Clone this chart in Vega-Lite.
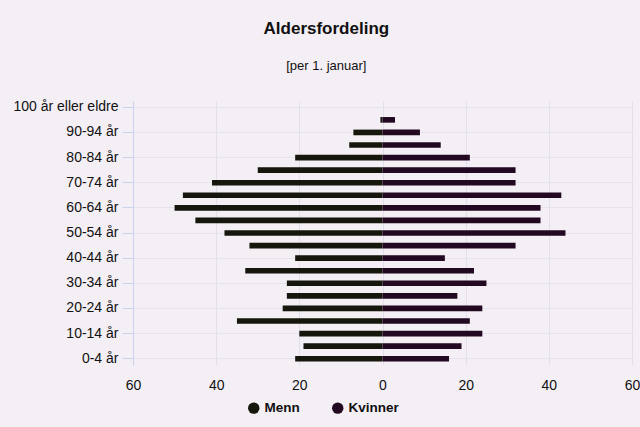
{
  "$schema": "https://vega.github.io/schema/vega-lite/v6.json",
  "width": 499,
  "height": 264,
  "autosize": {"type": "none"},
  "padding": {"left": 133, "top": 101, "right": 8, "bottom": 62},
  "background": "#f4eff5",
  "title": {
    "text": "Aldersfordeling",
    "subtitle": "[per 1. januar]",
    "frame": "bounds",
    "anchor": "middle",
    "font": "Liberation Sans",
    "fontSize": 17,
    "fontWeight": "bold",
    "color": "#111111",
    "subtitleFont": "Liberation Sans",
    "subtitleFontSize": 13,
    "subtitleColor": "#111111",
    "subtitlePadding": 22,
    "offset": 26
  },
  "config": {
    "view": {"stroke": null},
    "font": "Liberation Sans"
  },
  "data": {
    "values": [
      {"age": "0-4 år", "sex": "Menn", "value": -21},
      {"age": "5-9 år", "sex": "Menn", "value": -19},
      {"age": "10-14 år", "sex": "Menn", "value": -20},
      {"age": "15-19 år", "sex": "Menn", "value": -35},
      {"age": "20-24 år", "sex": "Menn", "value": -24},
      {"age": "25-29 år", "sex": "Menn", "value": -23},
      {"age": "30-34 år", "sex": "Menn", "value": -23},
      {"age": "35-39 år", "sex": "Menn", "value": -33},
      {"age": "40-44 år", "sex": "Menn", "value": -21},
      {"age": "45-49 år", "sex": "Menn", "value": -32},
      {"age": "50-54 år", "sex": "Menn", "value": -38},
      {"age": "55-59 år", "sex": "Menn", "value": -45},
      {"age": "60-64 år", "sex": "Menn", "value": -50},
      {"age": "65-69 år", "sex": "Menn", "value": -48},
      {"age": "70-74 år", "sex": "Menn", "value": -41},
      {"age": "75-79 år", "sex": "Menn", "value": -30},
      {"age": "80-84 år", "sex": "Menn", "value": -21},
      {"age": "85-89 år", "sex": "Menn", "value": -8},
      {"age": "90-94 år", "sex": "Menn", "value": -7},
      {"age": "95-99 år", "sex": "Menn", "value": -0.5},
      {"age": "100 år eller eldre", "sex": "Menn", "value": 0},
      {"age": "0-4 år", "sex": "Kvinner", "value": 16},
      {"age": "5-9 år", "sex": "Kvinner", "value": 19},
      {"age": "10-14 år", "sex": "Kvinner", "value": 24},
      {"age": "15-19 år", "sex": "Kvinner", "value": 21},
      {"age": "20-24 år", "sex": "Kvinner", "value": 24},
      {"age": "25-29 år", "sex": "Kvinner", "value": 18},
      {"age": "30-34 år", "sex": "Kvinner", "value": 25},
      {"age": "35-39 år", "sex": "Kvinner", "value": 22},
      {"age": "40-44 år", "sex": "Kvinner", "value": 15},
      {"age": "45-49 år", "sex": "Kvinner", "value": 32},
      {"age": "50-54 år", "sex": "Kvinner", "value": 44},
      {"age": "55-59 år", "sex": "Kvinner", "value": 38},
      {"age": "60-64 år", "sex": "Kvinner", "value": 38},
      {"age": "65-69 år", "sex": "Kvinner", "value": 43},
      {"age": "70-74 år", "sex": "Kvinner", "value": 32},
      {"age": "75-79 år", "sex": "Kvinner", "value": 32},
      {"age": "80-84 år", "sex": "Kvinner", "value": 21},
      {"age": "85-89 år", "sex": "Kvinner", "value": 14},
      {"age": "90-94 år", "sex": "Kvinner", "value": 9},
      {"age": "95-99 år", "sex": "Kvinner", "value": 3},
      {"age": "100 år eller eldre", "sex": "Kvinner", "value": 0}
    ]
  },
  "mark": {"type": "bar"},
  "encoding": {
    "y": {
      "field": "age",
      "type": "nominal",
      "scale": {
        "domain": ["100 år eller eldre", "95-99 år", "90-94 år", "85-89 år", "80-84 år", "75-79 år", "70-74 år", "65-69 år", "60-64 år", "55-59 år", "50-54 år", "45-49 år", "40-44 år", "35-39 år", "30-34 år", "25-29 år", "20-24 år", "15-19 år", "10-14 år", "5-9 år", "0-4 år"],
        "paddingInner": 0.55,
        "paddingOuter": 0.275
      },
      "axis": {
        "title": null,
        "values": ["100 år eller eldre", "90-94 år", "80-84 år", "70-74 år", "60-64 år", "50-54 år", "40-44 år", "30-34 år", "20-24 år", "10-14 år", "0-4 år"],
        "domainColor": "#c9d2ec",
        "tickColor": "#c9d2ec",
        "tickSize": 11,
        "labelPadding": 4,
        "labelFontSize": 14,
        "labelColor": "#111111",
        "grid": true,
        "gridColor": "#e6e2ee",
        "gridWidth": 1
      }
    },
    "x": {
      "field": "value",
      "type": "quantitative",
      "stack": null,
      "scale": {"domain": [-60, 60], "nice": false},
      "axis": {
        "title": null,
        "values": [-60, -40, -20, 0, 20, 40, 60],
        "labelExpr": "abs(datum.value)",
        "domain": false,
        "ticks": false,
        "labelPadding": 13,
        "labelFontSize": 14,
        "labelColor": "#111111",
        "grid": true,
        "gridColor": "#e3dfea",
        "labelFlush": false
      }
    },
    "color": {
      "field": "sex",
      "type": "nominal",
      "scale": {"domain": ["Menn", "Kvinner"], "range": ["#15170c", "#220820"]},
      "legend": {
        "title": null,
        "orient": "none",
        "legendX": 114,
        "legendY": 300,
        "direction": "horizontal",
        "symbolType": "circle",
        "symbolSize": 130,
        "symbolFillColor": "#000000",
        "labelFontSize": 13.5,
        "labelFontWeight": "bold",
        "labelColor": "#111111",
        "columnPadding": 31
      }
    }
  }
}
